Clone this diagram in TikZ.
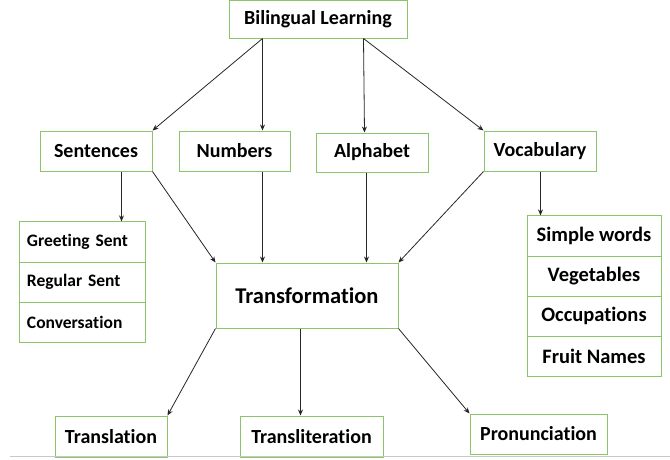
\documentclass[tikz,border=0pt]{standalone}
\usepackage{fontspec}
\setmainfont[Ligatures=NoCommon]{Carlito}
\usetikzlibrary{calc,arrows.meta}
\definecolor{boxgreen}{HTML}{8CC46A}
\definecolor{rulegray}{HTML}{C8C8C8}
\tikzset{
  box/.style={draw=boxgreen, line width=1pt, rectangle, inner sep=0pt,
    font=\fontsize{20}{23}\selectfont\bfseries, text=black},
  listleft/.style={box, minimum width=126pt, minimum height=40.3pt,
    font=\fontsize{17.5}{20}\selectfont\bfseries, align=left,
    text width=110pt},
  listright/.style={box, minimum width=134pt, minimum height=40.2pt,
    font=\fontsize{20.5}{23}\selectfont\bfseries},
  arr/.style={draw=black!85, line width=0.8pt, -{Stealth[length=6pt,width=5pt]}}
}
\begin{document}
\begin{tikzpicture}[x=1pt,y=-1pt]
\useasboundingbox (0,0) rectangle (670,459);

% top level
\node[box, minimum width=178pt, minimum height=37.5pt] (top) at (318,19.25) {Bilingual Learning};

% second level
\node[box, minimum width=112pt, minimum height=40pt] (sen) at (96,151) {Sentences};
\node[box, minimum width=111pt, minimum height=40pt] (num) at (234.5,151) {Numbers};
\node[box, minimum width=112pt, minimum height=39pt] (alp) at (372,152.5) {Alphabet};
\node[box, minimum width=112pt, minimum height=40pt] (voc) at (540,151) {Vocabulary};

% sentence list
\node[listleft] (g1) at (82,242) {Greeting Sent};
\node[listleft] (g2) at (82,282.3) {Regular Sent};
\node[listleft] (g3) at (82,322.6) {Conversation};

% vocabulary list
\node[listright] (v1) at (594,236) {Simple words};
\node[listright] (v2) at (594,276.2) {Vegetables};
\node[listright] (v3) at (594,316.4) {Occupations};
\node[listright] (v4) at (594,356.6) {Fruit Names};

% centre
\node[box, minimum width=182pt, minimum height=65pt, font=\fontsize{22.5}{26}\selectfont\bfseries] (trans) at (307,295.5) {Transformation};

% bottom level
\node[box, minimum width=112pt, minimum height=41pt] (tl) at (111,436.5) {Translation};
\node[box, minimum width=143pt, minimum height=41pt] (tr) at (311.5,436.5) {Transliteration};
\node[box, minimum width=137pt, minimum height=40pt] (pr) at (538.5,434) {Pronunciation};

% baseline rule
\coordinate (ruleL) at (10,456);
\coordinate (ruleR) at (670,456);
\draw[rulegray, line width=1pt] (ruleL) -- (ruleR);

% connectors from the top box
\draw[arr] ($(top.south west)+(34,0)$) -- (sen.north east);
\draw[arr] ($(top.south west)+(34,0)$) -- ($(num.north west)+(84,0)$);
\draw[arr] ($(top.south west)+(135,0)$) -- ($(alp.north west)+(49,0)$);
\draw[arr] ($(top.south west)+(135,0)$) -- (voc.north west);

% into the lists
\draw[arr] ($(sen.south west)+(82,0)$) -- ($(g1.north west)+(103,0)$);
\draw[arr] ($(voc.south west)+(57,0)$) -- ($(v1.north west)+(14,0)$);

% into the centre
\draw[arr] (sen.south east) -- (trans.north west);
\draw[arr] ($(num.south west)+(84,0)$) -- ($(trans.north west)+(47,0)$);
\draw[arr] ($(alp.south west)+(51,0)$) -- ($(trans.north west)+(151,0)$);
\draw[arr] (voc.south west) -- (trans.north east);

% out of the centre
\draw[arr] (trans.south west) -- (tl.north east);
\draw[arr] ($(trans.south west)+(85,0)$) -- (tr.north -| {$(trans.south west)+(85,0)$});
\draw[arr] (trans.south east) -- (pr.north west);
\end{tikzpicture}
\end{document}
